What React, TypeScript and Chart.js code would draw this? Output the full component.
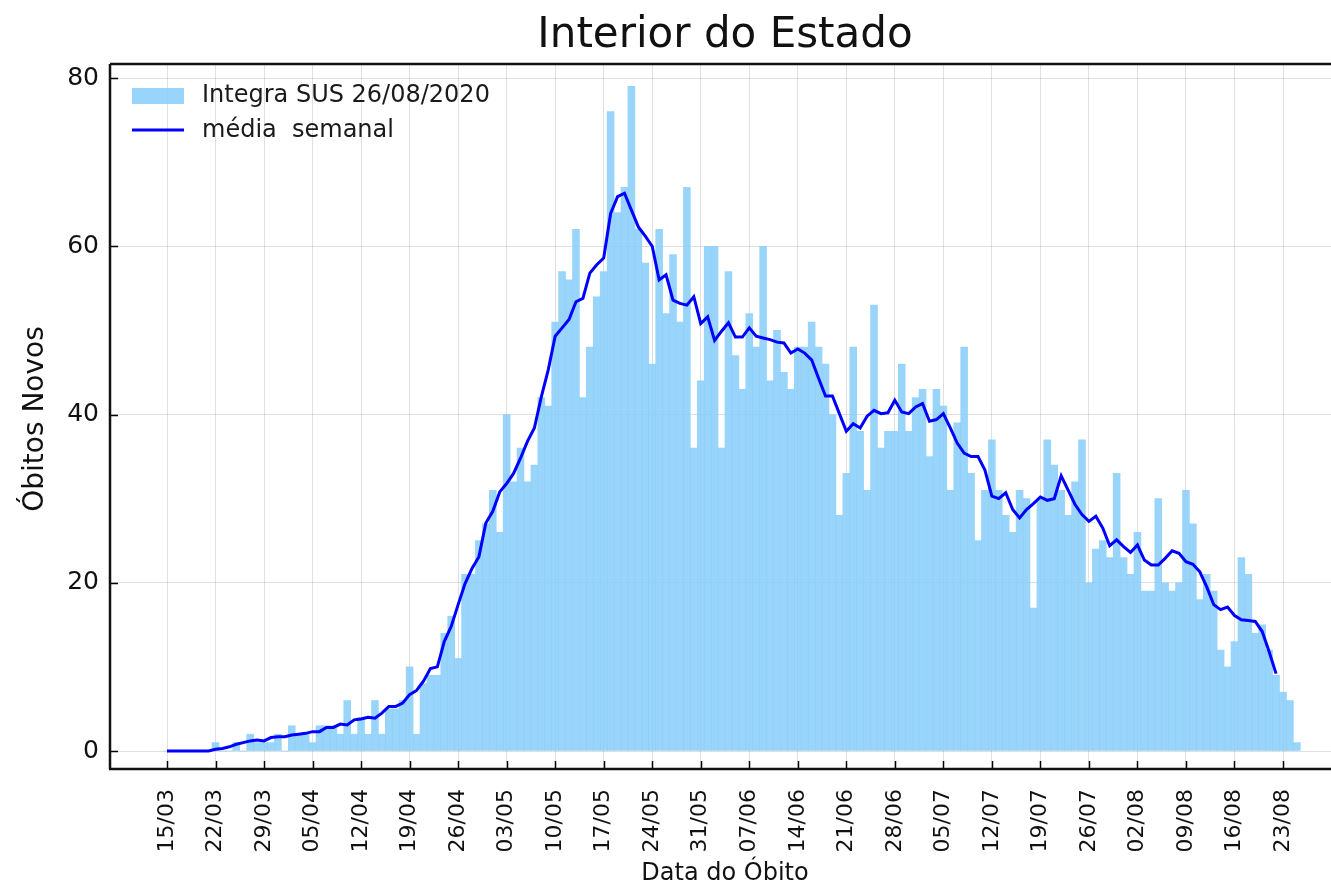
import React, { useEffect, useRef } from 'react';
import { Chart, registerables } from 'chart.js';

Chart.register(...registerables);

// Daily new deaths (one value per day starting 15/03)
const dailyDeaths: number[] = [
  0, 0, 0, 0, 0, 0, 0, 1, 0, 0,
  1, 0, 2, 1, 1, 1, 2, 0, 3, 2,
  2, 1, 3, 3, 3, 2, 6, 2, 4, 2,
  6, 2, 5, 5, 6, 10, 2, 8, 9, 9,
  14, 16, 11, 21, 21, 25, 27, 31, 26, 40,
  32, 36, 32, 34, 42, 41, 51, 57, 56, 62,
  42, 48, 54, 57, 76, 64, 67, 79, 62, 58,
  46, 62, 52, 59, 51, 67, 36, 44, 60, 60,
  36, 57, 47, 43, 52, 48, 60, 44, 50, 45,
  43, 48, 48, 51, 48, 46, 40, 28, 33, 48,
  38, 31, 53, 36, 38, 38, 46, 38, 42, 43,
  35, 43, 41, 31, 39, 48, 33, 25, 31, 37,
  31, 28, 26, 31, 30, 17, 30, 37, 34, 31,
  28, 32, 37, 20, 24, 25, 23, 33, 23, 21,
  26, 19, 19, 30, 20, 19, 20, 31, 27, 18,
  21, 19, 12, 10, 13, 23, 21, 14, 15, 12,
  9, 7, 6, 1,
];

// Weekly average line
const weeklyAverage: number[] = [
  0, 0, 0, 0, 0, 0, 0, 0.2, 0.3, 0.5,
  0.8, 1.0, 1.2, 1.3, 1.2, 1.6, 1.7, 1.7, 1.9, 2.0,
  2.1, 2.3, 2.3, 2.8, 2.8, 3.2, 3.1, 3.7, 3.8, 4.0,
  3.9, 4.5, 5.3, 5.3, 5.7, 6.7, 7.2, 8.3, 9.8, 10.0,
  13.0, 14.8, 17.4, 19.9, 21.7, 23.1, 27.1, 28.5, 30.8, 31.8,
  33.0, 34.8, 36.8, 38.4, 42.1, 45.3, 49.3, 50.3, 51.3, 53.4,
  53.8, 56.8, 57.8, 58.6, 63.9, 65.9, 66.3, 64.3, 62.3, 61.2,
  60.0, 56.0, 56.6, 53.6, 53.2, 53.0, 54.0, 50.8, 51.6, 48.8,
  49.9, 50.9, 49.2, 49.2, 50.3, 49.3, 49.1, 48.9, 48.6, 48.5,
  47.3, 47.8, 47.3, 46.5, 44.3, 42.2, 42.2, 40.1, 38.0, 38.9,
  38.4, 39.8, 40.5, 40.1, 40.2, 41.7, 40.3, 40.1, 40.9, 41.3,
  39.2, 39.4, 40.1, 38.4, 36.6, 35.4, 35.0, 35.0, 33.4, 30.3,
  30.0, 30.7, 28.7, 27.7, 28.7, 29.4, 30.2, 29.8, 30.0, 32.7,
  31.0, 29.3, 28.1, 27.3, 27.9, 26.5, 24.4, 25.1, 24.3, 23.6,
  24.5, 22.7, 22.1, 22.1, 22.9, 23.8, 23.5, 22.5, 22.2, 21.3,
  19.5, 17.4, 16.8, 17.1, 16.1, 15.6, 15.5, 15.4, 14.2, 11.8,
  9.2,
];

const tickLabels: string[] = [
  '15/03', '22/03', '29/03', '05/04', '12/04', '19/04', '26/04', '03/05',
  '10/05', '17/05', '24/05', '31/05', '07/06', '14/06', '21/06', '28/06',
  '05/07', '12/07', '19/07', '26/07', '02/08', '09/08', '16/08', '23/08',
];
const tickStepDays = 7;
const yTickValues: number[] = [0, 20, 40, 60, 80];

const titleText = 'Interior do Estado';
const xTitle = 'Data do Óbito';
const yTitle = 'Óbitos Novos';
const barLabel = 'Integra SUS 26/08/2020';
const lineLabel = 'média  semanal';

const BAR_COLOR = 'rgba(135,206,250,0.85)';
const LINE_COLOR = '#0000ff';
const FONT = '"DejaVu Sans", sans-serif';

const decorPlugin = {
  id: 'decor',
  afterDraw(chart: any) {
    const ctx = chart.ctx as CanvasRenderingContext2D;
    const area = chart.chartArea;
    const xs = chart.scales.x;
    const ys = chart.scales.y;
    ctx.save();

    // inward tick marks
    ctx.strokeStyle = '#000';
    ctx.lineWidth = 1.5;
    tickLabels.forEach((_, i) => {
      const px = Math.round(xs.getPixelForValue(i * tickStepDays)) + 0.5;
      ctx.beginPath();
      ctx.moveTo(px, area.bottom);
      ctx.lineTo(px, area.bottom - 8);
      ctx.stroke();
    });
    yTickValues.forEach((v) => {
      const py = Math.round(ys.getPixelForValue(v)) + 0.5;
      ctx.beginPath();
      ctx.moveTo(area.left, py);
      ctx.lineTo(area.left + 8, py);
      ctx.stroke();
    });

    // spines
    ctx.strokeStyle = '#111';
    ctx.lineWidth = 2.5;
    ctx.beginPath();
    ctx.moveTo(area.left, area.top);
    ctx.lineTo(area.right + 2, area.top);
    ctx.moveTo(area.left, area.top);
    ctx.lineTo(area.left, area.bottom);
    ctx.moveTo(area.left - 1, area.bottom);
    ctx.lineTo(area.right + 2, area.bottom);
    ctx.stroke();

    // title
    ctx.fillStyle = '#111';
    ctx.textAlign = 'center';
    ctx.textBaseline = 'alphabetic';
    ctx.font = `42px ${FONT}`;
    ctx.fillText(titleText, 725, 47);

    // x axis title
    ctx.font = `24px ${FONT}`;
    ctx.textBaseline = 'middle';
    ctx.fillText(xTitle, 725, 874);

    // y axis title
    ctx.save();
    ctx.translate(36, 419);
    ctx.rotate(-Math.PI / 2);
    ctx.font = `28px ${FONT}`;
    ctx.fillText(yTitle, 0, 0);
    ctx.restore();

    // legend
    ctx.fillStyle = BAR_COLOR;
    ctx.fillRect(132, 88, 52, 16);
    ctx.strokeStyle = LINE_COLOR;
    ctx.lineWidth = 3;
    ctx.beginPath();
    ctx.moveTo(132, 130);
    ctx.lineTo(184, 130);
    ctx.stroke();
    ctx.fillStyle = '#1a1a1a';
    ctx.textAlign = 'left';
    ctx.textBaseline = 'middle';
    ctx.font = `24px ${FONT}`;
    ctx.fillText(barLabel, 202, 96);
    ctx.fillText(lineLabel, 202, 131);

    ctx.restore();
  },
};

export default function App() {
  const canvasRef = useRef<HTMLCanvasElement | null>(null);

  useEffect(() => {
    document.body.style.margin = '0';
    const canvas = canvasRef.current;
    if (!canvas) return;

    const pxPerDay = 1116 / 161;
    const xMin = -(167 - 110) / pxPerDay;
    const xMax = (1331 - 167) / pxPerDay;
    const pxPerUnit = (751 - 78) / 80;
    const yMin = -(769 - 751) / pxPerUnit;
    const yMax = (751 - 64) / pxPerUnit;

    const chart = new Chart(canvas, {
      type: 'bar',
      data: {
        datasets: [
          {
            type: 'line',
            label: lineLabel,
            data: weeklyAverage.map((v, i) => ({ x: i, y: v })),
            borderColor: LINE_COLOR,
            borderWidth: 3,
            pointRadius: 0,
            tension: 0,
            fill: false,
            order: 0,
          } as any,
          {
            type: 'bar',
            label: barLabel,
            data: dailyDeaths.map((v, i) => ({ x: i, y: v })),
            backgroundColor: BAR_COLOR,
            borderWidth: 0,
            categoryPercentage: 1,
            barPercentage: 1,
            order: 1,
          } as any,
        ],
      },
      options: {
        responsive: false,
        animation: false,
        events: [],
        layout: { padding: { top: 64, left: 0, right: 0, bottom: 0 } },
        plugins: {
          legend: { display: false },
          title: { display: false },
          tooltip: { enabled: false },
        },
        scales: {
          x: {
            type: 'linear',
            min: xMin,
            max: xMax,
            offset: false,
            border: { display: false },
            grid: {
              color: 'rgba(0,0,0,0.12)',
              lineWidth: 1,
              drawTicks: false,
              offset: false,
            },
            afterBuildTicks: (scale: any) => {
              scale.ticks = tickLabels.map((_, i) => ({ value: i * tickStepDays }));
            },
            afterFit: (scale: any) => {
              scale.height = 887 - 769;
            },
            ticks: {
              autoSkip: false,
              minRotation: 90,
              maxRotation: 90,
              padding: 20,
              color: '#111',
              font: { family: FONT, size: 22 },
              callback: (value: any) => {
                const idx = Math.round(Number(value) / tickStepDays);
                return tickLabels[idx] ?? '';
              },
            },
          },
          y: {
            type: 'linear',
            min: yMin,
            max: yMax,
            border: { display: false },
            grid: {
              color: 'rgba(0,0,0,0.12)',
              lineWidth: 1,
              drawTicks: false,
            },
            afterBuildTicks: (scale: any) => {
              scale.ticks = yTickValues.map((v) => ({ value: v }));
            },
            afterFit: (scale: any) => {
              scale.width = 110;
            },
            ticks: {
              padding: 11,
              color: '#111',
              font: { family: FONT, size: 25 },
              callback: (value: any) => String(value),
            },
          },
        },
      },
      plugins: [decorPlugin],
    });

    return () => chart.destroy();
  }, []);

  return (
    <div style={{ width: 1331, height: 887, position: 'relative', background: '#fff' }}>
      <canvas ref={canvasRef} width={1331} height={887} style={{ display: 'block' }} />
    </div>
  );
}
